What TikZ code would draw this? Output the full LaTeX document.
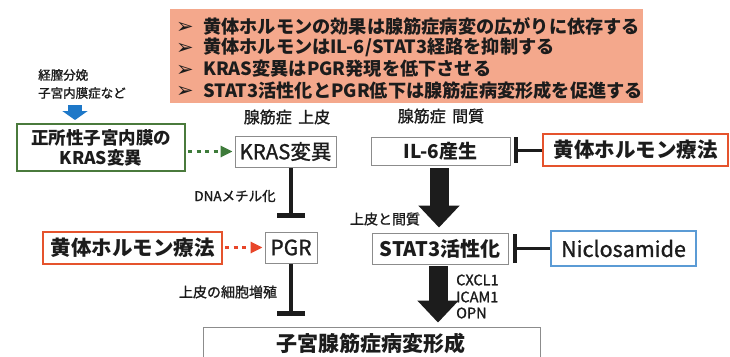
\documentclass[tikz,border=0pt]{standalone}
\usepackage{fontspec}
\setmainfont{Noto Sans CJK JP}
\newfontfamily\medfont{Noto Sans CJK JP}[FakeBold=1.2]
\newfontfamily\dejavu{DejaVu Sans}
\usetikzlibrary{arrows.meta}
\definecolor{salmon}{HTML}{F4A88C}
\definecolor{gborder}{HTML}{4A7A3C}
\definecolor{gdot}{HTML}{3E7B3A}
\definecolor{oborder}{HTML}{E5532D}
\definecolor{rdot}{HTML}{E8462A}
\definecolor{bborder}{HTML}{5B9BD5}
\definecolor{barrow}{HTML}{1E78C8}
\definecolor{grayline}{HTML}{8C8C8C}
\definecolor{ink}{HTML}{1C1C1C}
\newcommand\fsz[2]{\fontsize{#1}{#2}\selectfont}
\newcommand\bul{\makebox[27pt][l]{\dejavu\fsz{21pt}{21pt}\raisebox{-0.5pt}{➢}}}
\begin{document}
\begin{tikzpicture}[x=1pt,y=-1pt,
  every node/.style={text=ink, inner sep=0pt},
  graybox/.style={draw=grayline, line width=0.9pt, fill=white},
  greenbox/.style={draw=gborder, line width=2pt, fill=white},
  orangebox/.style={draw=oborder, line width=2pt, fill=white},
  bluebox/.style={draw=bborder, line width=1.6pt, fill=white},
  bulline/.style={anchor=west, font=\bfseries\fsz{18.2pt}{20pt}},
  smalllab/.style={font=\medfont\fsz{14pt}{16pt}},
  tbar/.style={draw=ink, line width=#1},
  bigarrow/.style={draw=ink, line width=19pt, -{Triangle[width=40pt,length=22pt]}},
  dotarrow/.style={line width=3.5pt, dash pattern=on 4pt off 4.5pt, -{Triangle[width=11pt,length=12pt]}}
]
\useasboundingbox (0,0) rectangle (730,356);
\fill[white] (0,0) rectangle (730,356);

% summary box
\node[fill=salmon, minimum width=473pt, minimum height=94pt] (summary) at (406.5,55.5) {};
\node[bulline] (l1) at (176,26) {\bul 黄体ホルモンの効果は腺筋症病変の広がりに依存する};
\node[bulline] (l2) at (176,47.5) {\bul 黄体ホルモンはIL-6/STAT3経路を抑制する};
\node[bulline] (l3) at (176,69) {\bul KRAS変異はPGR発現を低下させる};
\node[bulline] (l4) at (176,90.5) {\bul STAT3活性化とPGR低下は腺筋症病変形成を促進する};

% cause text
\node[anchor=west, font=\medfont\fsz{12.5pt}{14pt}] (cause1) at (38,75) {経膣分娩};
\node[anchor=west, font=\medfont\fsz{12.5pt}{14pt}] (cause2) at (38,93) {子宮内膜症など};
\coordinate (bluetop) at (75,105);

% boxes
\node[greenbox, minimum width=168pt, minimum height=47pt, align=center, font=\bfseries\fsz{17.5pt}{20pt}] (start) at (101,147.5) {正所性子宮内膜の\\KRAS変異};
\node[font=\medfont\fsz{16pt}{18pt}] (epi) at (287,117) {腺筋症\hspace{0.4em}上皮};
\node[graybox, minimum width=101pt, minimum height=31pt, font=\medfont\fsz{20.5pt}{22pt}] (kras) at (285.5,151.5) {KRAS変異};
\node[font=\medfont\fsz{16pt}{18pt}] (str) at (441,116) {腺筋症\hspace{0.4em}間質};
\node[graybox, minimum width=139pt, minimum height=28pt, font=\bfseries\fsz{19pt}{21pt}] (il6) at (440.5,151) {IL-6産生};
\node[orangebox, minimum width=185pt, minimum height=32pt, font=\bfseries\fsz{20.5pt}{22pt}] (rpr) at (635.5,150) {黄体ホルモン療法};

\node[orangebox, minimum width=179pt, minimum height=32pt, font=\bfseries\fsz{20.5pt}{22pt}] (lpr) at (132.5,248) {黄体ホルモン療法};
\node[graybox, minimum width=52pt, minimum height=31pt, font=\medfont\fsz{21pt}{22pt}] (pgr) at (291,247.5) {PGR};
\node[graybox, minimum width=136pt, minimum height=31pt, font=\bfseries\fsz{20pt}{22pt}] (stat3) at (440,248.5) {STAT3活性化};
\node[bluebox, minimum width=145pt, minimum height=35pt, font=\medfont\fsz{21.5pt}{22pt}] (nic) at (623.5,248.5) {Niclosamide};

\node[graybox, minimum width=337pt, minimum height=40pt] (lesion) at (371.5,347) {};
\node[font=\bfseries\fsz{21pt}{22pt}] (lesiontext) at (371,343) {子宮腺筋症病変形成};

% labels
\node[font=\medfont\fsz{13.5pt}{15pt}] (dna) at (235,196) {DNAメチル化};
\node[smalllab] (prolif) at (228,292) {上皮の細胞増殖};
\node[smalllab] (both) at (385,219) {上皮と間質};
\node[anchor=west, font=\medfont\fsz{14.5pt}{16pt}] (cx) at (456,280) {CXCL1};
\node[anchor=west, font=\medfont\fsz{14.5pt}{16pt}] (ic) at (456,297) {ICAM1};
\node[anchor=west, font=\medfont\fsz{14.5pt}{16pt}] (op) at (456,313) {OPN};

% connectors
\draw[barrow, line width=14pt, -{Triangle[width=25pt,length=9pt]}, shorten >=3pt] (bluetop) -- (bluetop |- start.north);
\draw[gdot, dotarrow, shorten <=2pt, shorten >=2pt] (start.east |- kras.west) -- (kras.west);
\draw[rdot, dotarrow, shorten <=2pt, shorten >=2pt] (lpr.east |- pgr.west) -- (pgr.west);

\draw[tbar=4.5pt, -{Bar[width=28pt]}, shorten <=1pt, shorten >=14pt] (kras.south -| pgr.north) -- (pgr.north);
\draw[tbar=4.5pt, -{Bar[width=28pt]}, shorten <=1pt, shorten >=11pt] (pgr.south) -- (pgr.south |- lesion.north);

\draw[tbar=3pt, -{Bar[width=26pt, line width=4pt]}, shorten >=4pt] (rpr.west) -- (rpr.west -| il6.east);
\draw[tbar=3pt, -{Bar[width=29pt, line width=4pt]}, shorten >=5pt] (nic.west) -- (nic.west -| stat3.east);

\draw[bigarrow, shorten <=3pt, shorten >=5pt] ([xshift=-1.5pt]il6.south) -- ([xshift=-1.5pt]il6.south |- stat3.north);
\draw[bigarrow, shorten <=2pt, shorten >=4pt] ([xshift=-2pt]stat3.south) -- ([xshift=-2pt]stat3.south |- lesion.north);
\end{tikzpicture}
\end{document}
